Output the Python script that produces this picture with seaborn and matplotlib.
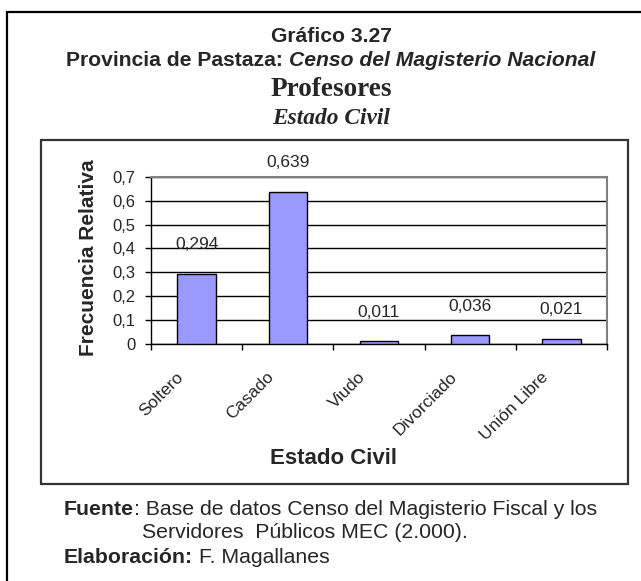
import matplotlib
matplotlib.use("Agg")
import matplotlib.pyplot as plt
import matplotlib.transforms as mtransforms
from matplotlib.patches import Rectangle
import seaborn as sns
import pandas as pd

# ---- data -------------------------------------------------------------
categories = ["Soltero", "Casado", "Viudo", "Divorciado", "Unión Libre"]
frecuencia = [0.294, 0.639, 0.011, 0.036, 0.021]
y_ticks = [0.0, 0.1, 0.2, 0.3, 0.4, 0.5, 0.6, 0.7]
y_tick_labels = ["0", "0,1", "0,2", "0,3", "0,4", "0,5", "0,6", "0,7"]

# ---- style --------------------------------------------------------------
sns.set_style("white")
plt.rcParams["font.family"] = ["Liberation Sans", "DejaVu Sans"]
SERIF = ["Liberation Serif", "DejaVu Serif"]

W, H, DPI = 641, 581, 100
fig = plt.figure(figsize=(W / DPI, H / DPI), dpi=DPI)
fig.patch.set_facecolor("white")


def fx(px):
    return px / W


def fy(px):
    return 1 - px / H


# page frame and chart frame
fig.add_artist(Rectangle((fx(7), -0.02), 1.0, fy(12) + 0.02,
                         transform=fig.transFigure, fill=False,
                         edgecolor="black", lw=1.6))
fig.add_artist(Rectangle((fx(41), fy(484)), fx(628) - fx(41), fy(140) - fy(484),
                         transform=fig.transFigure, fill=False,
                         edgecolor="#333333", lw=1.6))

# ---- bar chart ----------------------------------------------------------
ax = fig.add_axes([fx(151), fy(343.8), fx(607) - fx(151), fy(177) - fy(343.8)])
df = pd.DataFrame({"Estado Civil": categories, "Frecuencia Relativa": frecuencia})
sns.barplot(data=df, x="Estado Civil", y="Frecuencia Relativa",
            color="#9999FF", saturation=1, edgecolor="black", linewidth=1,
            width=0.42, ax=ax, zorder=3)

ax.set_xlim(-0.5, len(categories) - 0.5)
ax.set_ylim(0, 0.7)
ax.set_facecolor("white")
ax.set_axisbelow(True)
ax.yaxis.grid(True, color="black", lw=1)
ax.xaxis.grid(False)

for side in ("left", "bottom"):
    ax.spines[side].set_color("black")
    ax.spines[side].set_linewidth(1)
for side in ("top", "right"):
    ax.spines[side].set_color("#808080")
    ax.spines[side].set_linewidth(1.5)

# y axis
ax.set_yticks(y_ticks, y_tick_labels)
ax.tick_params(axis="y", which="major", left=True, direction="out",
               length=4.3, width=1, color="black", pad=7, labelsize=12)

# x axis: tick marks between categories, rotated names under each bar
ax.set_xticks([i - 0.5 for i in range(len(categories) + 1)], minor=True)
ax.tick_params(axis="x", which="minor", bottom=True, direction="out",
               length=4, width=1, color="black")
ax.tick_params(axis="x", which="major", bottom=False, length=0, pad=0,
               labelsize=12.5)
shift = mtransforms.ScaledTranslation(-16 / DPI, -31 / DPI, fig.dpi_scale_trans)
for lab in ax.get_xticklabels():
    lab.set_rotation(45)
    lab.set_ha("right")
    lab.set_va("center")
    lab.set_rotation_mode("anchor")
    lab.set_transform(lab.get_transform() + shift)

ax.set_ylabel("Frecuencia Relativa", fontsize=15, fontweight="bold", va="center")
ax.yaxis.set_label_coords((89 - 151) / 456, (343.8 - 258) / 166.8)
ax.set_xlabel("Estado Civil", fontsize=16, fontweight="bold", va="center")
ax.xaxis.set_label_coords((333 - 151) / 456, (343.8 - 458) / 166.8)

# value labels above each bar
for i, v in enumerate(frecuencia):
    ax.annotate(f"{v:.3f}".replace(".", ","), (i, v), xytext=(0, 21),
                textcoords="offset points", ha="center", va="center",
                fontsize=12.5, zorder=4)

# ---- titles and notes ---------------------------------------------------
renderer = fig.canvas.get_renderer()


def text_width(s, **kw):
    t = fig.text(0, 0, s, **kw)
    w = t.get_window_extent(renderer).width
    t.remove()
    return w


def runs(parts, x_px, base_px, align="left"):
    """Draw consecutive text pieces with different styles on one baseline."""
    objs, widths = [], []
    for s, kw in parts:
        if s == " ":
            gap = text_width("x x", **kw) - text_width("xx", **kw)
            objs.append(None)
            widths.append(gap)
            continue
        t = fig.text(0, fy(base_px), s, ha="left", va="baseline", **kw)
        objs.append(t)
        widths.append(t.get_window_extent(renderer).width)
    x0 = x_px - sum(widths) / 2 if align == "center" else x_px
    for t, w in zip(objs, widths):
        if t is not None:
            t.set_x(fx(x0))
        x0 += w


title_kw = dict(fontsize=15.2, fontweight="bold")
runs([("Gráfico 3.27", title_kw)], 331, 41.5, "center")
runs([("Provincia de Pastaza:", title_kw), (" ", title_kw),
      ("Censo del Magisterio Nacional", dict(title_kw, fontstyle="italic"))],
     331, 66.5, "center")
runs([("Profesores", dict(fontsize=19.6, fontweight="bold", family=SERIF))],
     331, 96.5, "center")
runs([("Estado Civil", dict(fontsize=16.8, fontweight="bold",
                            fontstyle="italic", family=SERIF))],
     331, 124, "center")

note_kw = dict(fontsize=15.3)
bold_note = dict(note_kw, fontweight="bold")
runs([("Fuente", bold_note),
      (": Base de datos Censo del Magisterio Fiscal y los", note_kw)], 64, 515)
runs([("Servidores  Públicos MEC (2.000).", note_kw)], 142, 538)
runs([("Elaboración:", bold_note), (" ", note_kw), ("F. Magallanes", note_kw)],
     64, 563)

fig.savefig("out.png", dpi=DPI)
